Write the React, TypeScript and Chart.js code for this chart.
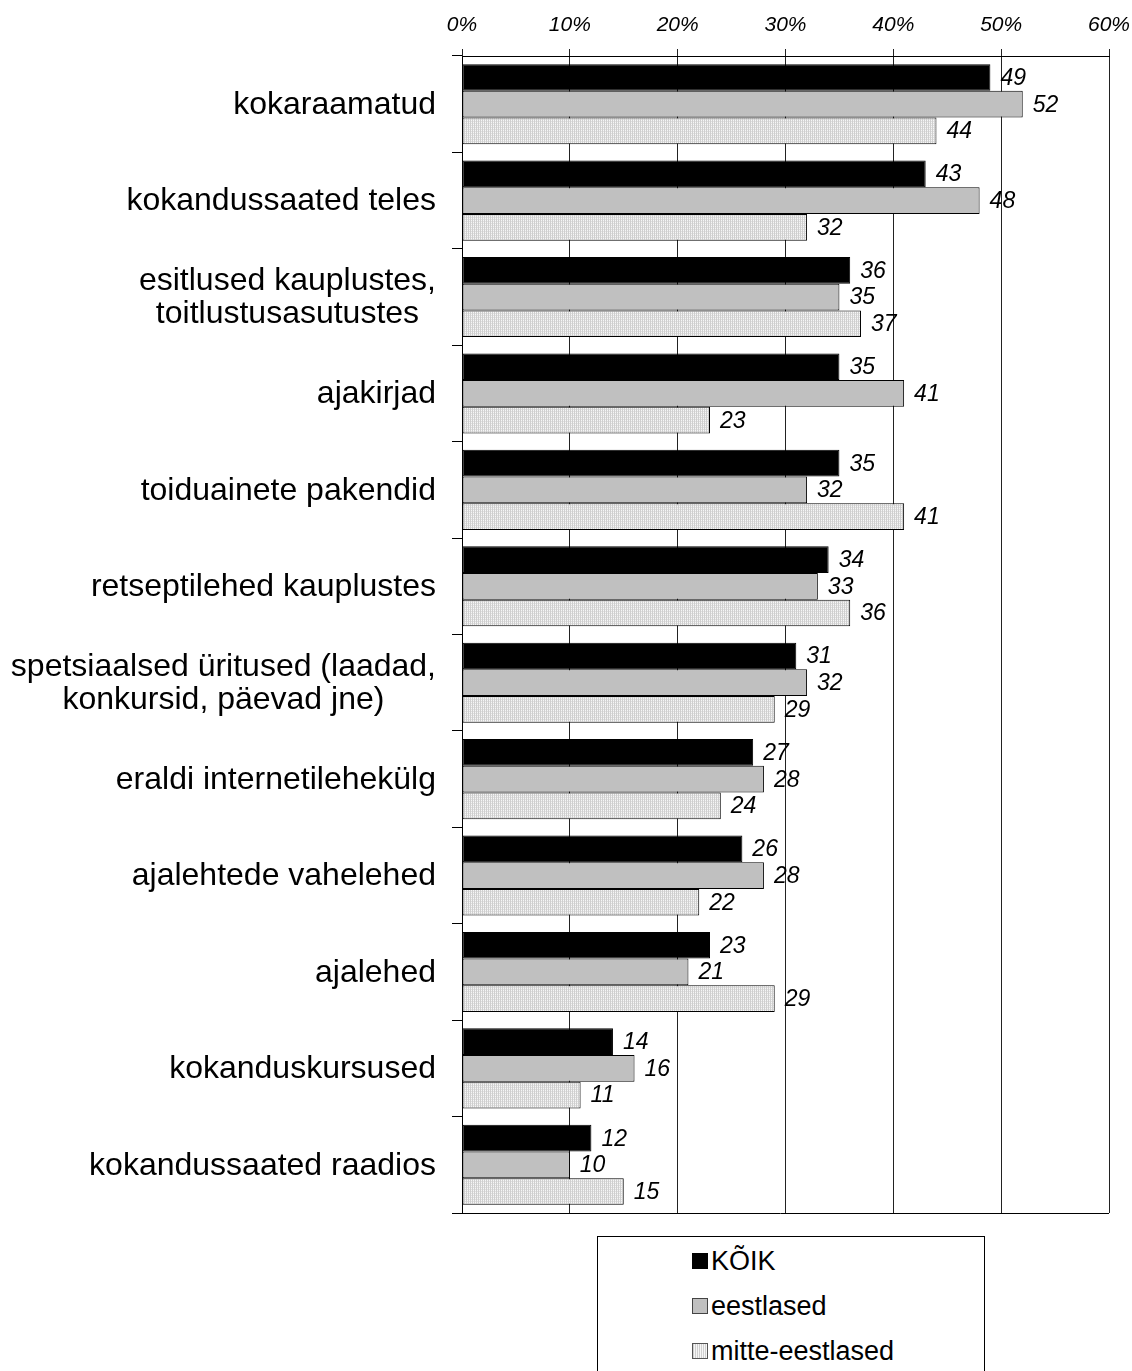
import React, { useEffect, useRef } from "react";
import { Chart, registerables } from "chart.js";

Chart.register(...registerables);

const categories: string[][] = [
  ["kokaraamatud"],
  ["kokandussaated teles"],
  ["esitlused kauplustes,", "toitlustusasutustes"],
  ["ajakirjad"],
  ["toiduainete pakendid"],
  ["retseptilehed kauplustes"],
  ["spetsiaalsed üritused (laadad,", "konkursid, päevad jne)"],
  ["eraldi internetilehekülg"],
  ["ajalehtede vahelehed"],
  ["ajalehed"],
  ["kokanduskursused"],
  ["kokandussaated raadios"],
];
const seriesNames = ["KÕIK", "eestlased", "mitte-eestlased"];
const koik = [49, 43, 36, 35, 35, 34, 31, 27, 26, 23, 14, 12];
const eestlased = [52, 48, 35, 41, 32, 33, 32, 28, 28, 21, 16, 10];
const mitteEestlased = [44, 32, 37, 23, 41, 36, 29, 24, 22, 29, 11, 15];
const xMin = 0;
const xMax = 60;
const xStep = 10;

const FONT = '"Liberation Sans", Arial, sans-serif';

function makePattern(ctx: CanvasRenderingContext2D): CanvasPattern | string {
  const c = document.createElement("canvas");
  c.width = 2;
  c.height = 2;
  const g = c.getContext("2d");
  if (!g) return "#e4e4e4";
  g.fillStyle = "#f6f6f6";
  g.fillRect(0, 0, 2, 2);
  g.fillStyle = "#cfcfcf";
  g.fillRect(0, 0, 1, 2);
  g.fillStyle = "#e0e0e0";
  g.fillRect(1, 1, 1, 1);
  return ctx.createPattern(c, "repeat") || "#e4e4e4";
}

const labelPlugin = {
  id: "customLabels",
  afterDatasetsDraw(chart: any) {
    const ctx: CanvasRenderingContext2D = chart.ctx;
    const yScale = chart.scales.y;
    const area = chart.chartArea;
    ctx.save();
    ctx.fillStyle = "#000";
    ctx.font = `32px ${FONT}`;
    ctx.textBaseline = "middle";
    ctx.textAlign = "center";
    const lineH = 33;
    categories.forEach((lines, i) => {
      const yc = yScale.getPixelForValue(i);
      const maxW = Math.max(...lines.map((l) => ctx.measureText(l).width));
      const cx = yScale.right - 26 - maxW / 2;
      lines.forEach((l, j) => {
        ctx.fillText(l, cx, yc + (j - (lines.length - 1) / 2) * lineH + 1);
      });
    });
    ctx.font = `italic 23px ${FONT}`;
    ctx.textAlign = "left";
    chart.data.datasets.forEach((ds: any, di: number) => {
      const meta = chart.getDatasetMeta(di);
      meta.data.forEach((el: any, i: number) => {
        ctx.fillText(String(ds.data[i]), el.x + 10, el.y + 1);
      });
    });
    ctx.strokeStyle = "#000";
    ctx.lineWidth = 1;
    ctx.beginPath();
    ctx.moveTo(area.left - 10, Math.round(area.bottom) + 0.5);
    ctx.lineTo(area.right, Math.round(area.bottom) + 0.5);
    ctx.stroke();
    ctx.restore();
  },
};

export default function App() {
  const ref = useRef<HTMLCanvasElement>(null);
  useEffect(() => {
    const canvas = ref.current!;
    const ctx = canvas.getContext("2d")!;
    const pattern = makePattern(ctx);
    const chart = new Chart(canvas, {
      type: "bar",
      data: {
        labels: categories.map((c) => c.join(" ")),
        datasets: [
          { label: seriesNames[0], data: koik, backgroundColor: "#000", borderColor: "#000", borderWidth: 1, borderSkipped: false },
          { label: seriesNames[1], data: eestlased, backgroundColor: "#c0c0c0", borderColor: "#000", borderWidth: 1, borderSkipped: false },
          { label: seriesNames[2], data: mitteEestlased, backgroundColor: pattern as any, borderColor: "#000", borderWidth: 1, borderSkipped: false },
        ],
      },
      options: {
        indexAxis: "y",
        responsive: false,
        animation: false,
        layout: { padding: { left: 0, top: 0, right: 23, bottom: 158 } },
        datasets: { bar: { categoryPercentage: 0.83, barPercentage: 1 } },
        plugins: { legend: { display: false }, tooltip: { enabled: false } },
        scales: {
          x: {
            position: "top",
            min: xMin,
            max: xMax,
            ticks: {
              stepSize: xStep,
              callback: (v: any) => v + "%",
              font: { family: FONT, size: 21, style: "italic" },
              color: "#000",
              padding: 11,
              maxRotation: 0,
            },
            grid: { color: "#222", lineWidth: 1, tickLength: 7, drawTicks: true, drawOnChartArea: true },
            border: { display: true, color: "#000" },
            afterFit: (s: any) => {
              s.height = 56;
              s.paddingLeft = 0;
              s.paddingRight = 0;
            },
          },
          y: {
            ticks: { display: false },
            grid: { display: true, drawOnChartArea: false, drawTicks: true, tickLength: 10, color: "#000", offset: true },
            border: { display: true, color: "#000" },
            afterFit: (s: any) => {
              s.width = 462;
              s.paddingTop = 0;
              s.paddingBottom = 0;
            },
          },
        },
      } as any,
      plugins: [labelPlugin],
    });
    return () => chart.destroy();
  }, []);

  const markerStyles: React.CSSProperties[] = [
    { background: "#000", border: "1px solid #000" },
    { background: "#c0c0c0", border: "1px solid #444" },
    { background: "repeating-linear-gradient(90deg, #cfcfcf 0px, #cfcfcf 1px, #f6f6f6 1px, #f6f6f6 2px)", border: "1px solid #555" },
  ];
  const centers = [1261, 1306, 1351];

  return (
    <div style={{ position: "absolute", left: 0, top: 0, width: 1132, height: 1371, overflow: "hidden", background: "#fff" }}>
      <canvas ref={ref} width={1132} height={1371} style={{ display: "block", width: 1132, height: 1371 }} />
      <div
        style={{
          position: "absolute",
          left: 597,
          top: 1236,
          width: 388,
          height: 200,
          border: "1px solid #000",
          boxSizing: "border-box",
          background: "#fff",
        }}
      >
        {seriesNames.map((name, i) => (
          <div
            key={name}
            style={{
              position: "absolute",
              left: 94,
              top: centers[i] - 1236 - 1 - 16,
              height: 32,
              display: "flex",
              alignItems: "center",
              fontFamily: FONT,
              fontSize: 27,
              color: "#000",
              whiteSpace: "nowrap",
            }}
          >
            <span style={{ display: "inline-block", width: 16, height: 16, boxSizing: "border-box", marginRight: 3, ...markerStyles[i] }} />
            <span>{name}</span>
          </div>
        ))}
      </div>
    </div>
  );
}
